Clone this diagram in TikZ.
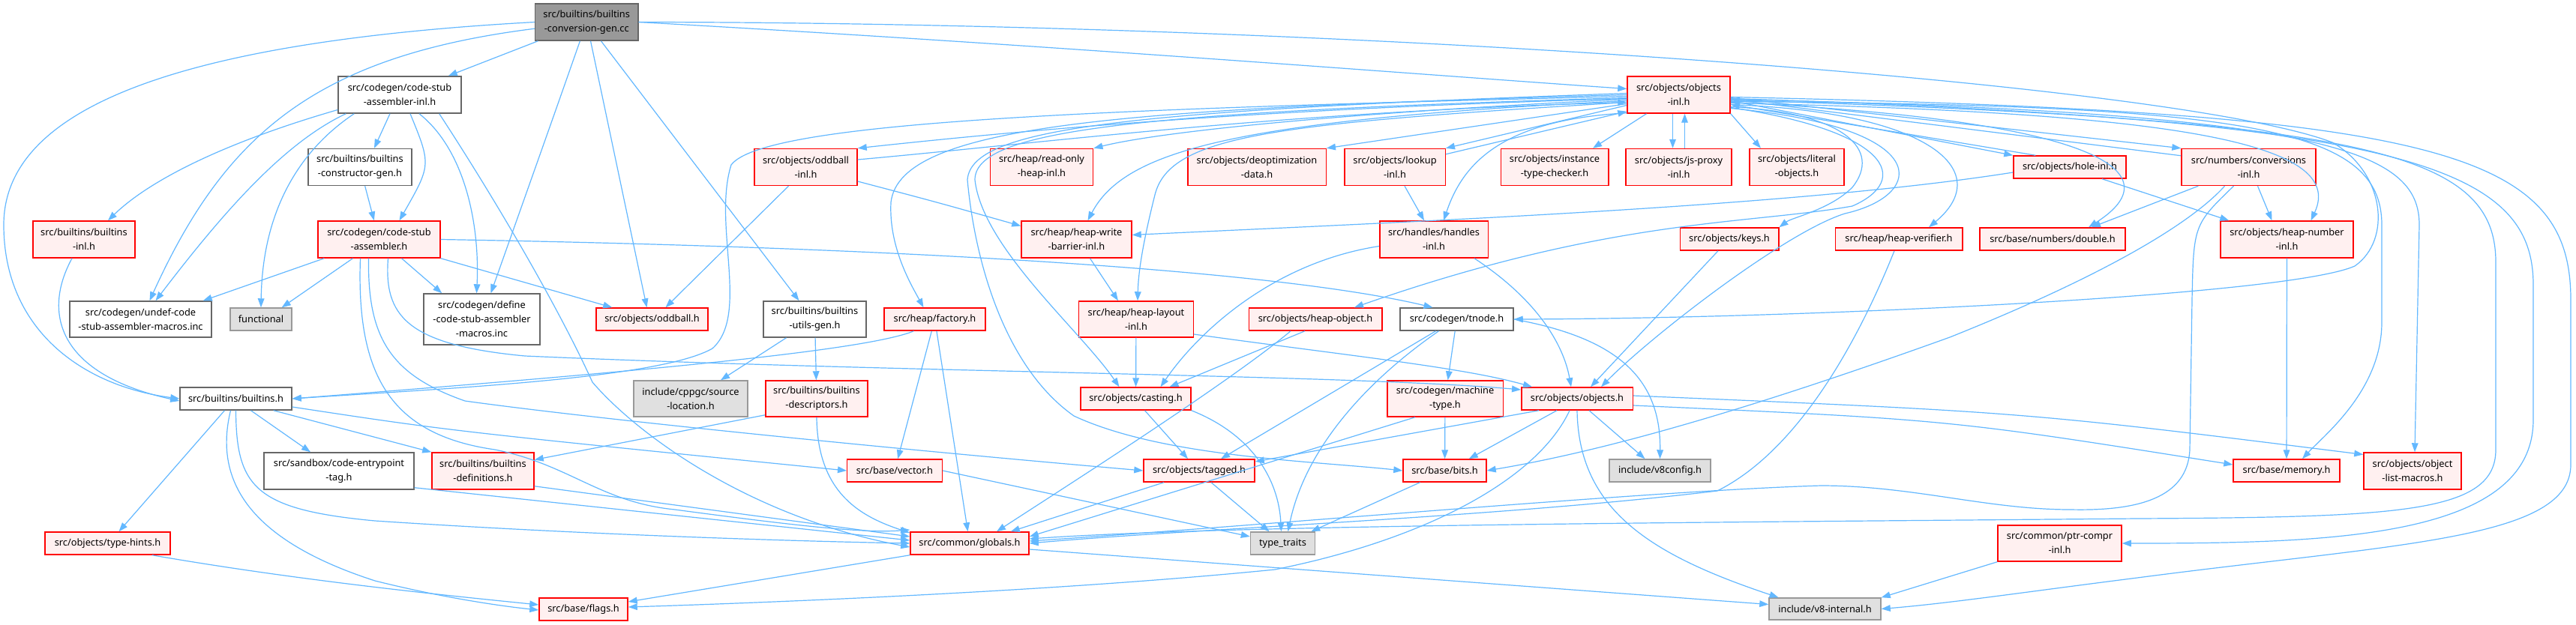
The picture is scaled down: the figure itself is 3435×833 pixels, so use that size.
\documentclass[tikz,border=0pt]{standalone}
\usepackage{fontspec}
\setmainfont{Noto Sans}
\usetikzlibrary{arrows.meta,calc}
\definecolor{eblue}{HTML}{63B8FF}
\definecolor{rfill}{HTML}{FFF0F0}
\definecolor{rdraw}{HTML}{FF0000}
\definecolor{gfill}{HTML}{E0E0E0}
\definecolor{gdraw}{HTML}{999999}
\definecolor{wdraw}{HTML}{666666}
\definecolor{rootfill}{HTML}{999999}
\newcommand\gvfont{\fontsize{9.6}{14.25}\selectfont}
\newcommand\gnode[6]{\node[#1,minimum width={#4*0.75pt},minimum height={#5*0.75pt}] (#2) at (#3) {#6};}
\tikzset{
  base/.style={rectangle, inner sep=0pt, align=center, font=\gvfont, line width=1.1pt},
  rn/.style={base, draw=rdraw, fill=rfill},
  gn/.style={base, draw=gdraw, fill=gfill},
  wn/.style={base, draw=wdraw, fill=white},
  rootn/.style={base, draw=wdraw, fill=rootfill},
  e/.style={draw=eblue, line width=0.9pt, -{Triangle[length=9pt,width=6.5pt]}}
}
\begin{document}
\begin{tikzpicture}[x=0.75pt,y=-0.75pt]
\useasboundingbox[fill=white] (0,0) rectangle (3435,833);
% nodes
\gnode{rootn}{R}{782.25,29.5}{137.5}{49}{src/builtins/builtins\\-conversion-gen.cc}
\gnode{wn}{csaInl}{533,126.5}{164}{49}{src/codegen/code-stub\\-assembler-inl.h}
\gnode{rn}{builtinsInl}{112,319.5}{136}{49}{src/builtins/builtins\\-inl.h}
\gnode{wn}{bcg}{480,223}{138}{49}{src/builtins/builtins\\-constructor-gen.h}
\gnode{rn}{csa}{505.5,319.5}{163}{49}{src/codegen/code-stub\\-assembler.h}
\gnode{wn}{undef}{187.5,426}{189}{48}{src/codegen/undef-code\\-stub-assembler-macros.inc}
\gnode{gn}{functional}{348,426}{82}{30}{functional}
\gnode{wn}{define}{642.5,426}{155}{68}{src/codegen/define\\-code-stub-assembler\\-macros.inc}
\gnode{rn}{oddballH}{869.5,426}{149}{30}{src/objects/oddball.h}
\gnode{wn}{utilsGen}{1086.5,426}{137}{48}{src/builtins/builtins\\-utils-gen.h}
\gnode{rn}{oddballInl}{1074.5,223}{137}{49}{src/objects/oddball\\-inl.h}
\gnode{rn}{OI}{2238.5,126.5}{137}{49}{src/objects/objects\\-inl.h}
\gnode{rn}{readOnly}{1389,223}{137.5}{49}{src/heap/read-only\\-heap-inl.h}
\gnode{rn}{deopt}{1676,223}{184.5}{49}{src/objects/deoptimization\\-data.h}
\gnode{rn}{lookup}{1860,223}{134.5}{49}{src/objects/lookup\\-inl.h}
\gnode{rn}{instance}{2073,223}{143.5}{49}{src/objects/instance\\-type-checker.h}
\gnode{rn}{jsProxy}{2238.5,223}{141}{49}{src/objects/js-proxy\\-inl.h}
\gnode{rn}{literal}{2396,223}{126}{49}{src/objects/literal\\-objects.h}
\gnode{rn}{holeInl}{2760,223}{150}{30}{src/objects/hole-inl.h}
\gnode{rn}{conversions}{2998.5,223}{179}{49}{src/numbers/conversions\\-inl.h}
\gnode{rn}{hwb}{1435.5,319.5}{147}{49}{src/heap/heap-write\\-barrier-inl.h}
\gnode{rn}{handles}{1912,319.5}{144.5}{49}{src/handles/handles\\-inl.h}
\gnode{rn}{keys}{2306,319}{131.5}{30}{src/objects/keys.h}
\gnode{rn}{heapVerifier}{2532,319}{169.5}{30}{src/heap/heap-verifier.h}
\gnode{rn}{double}{2737,319}{194}{30}{src/base/numbers/double.h}
\gnode{rn}{heapNumber}{3049.5,319.5}{177}{49}{src/objects/heap-number\\-inl.h}
\gnode{rn}{factory}{1246.5,426}{135}{30}{src/heap/factory.h}
\gnode{rn}{heapLayout}{1515,426}{152.5}{48}{src/heap/heap-layout\\-inl.h}
\gnode{rn}{heapObject}{1754,426}{177.5}{30}{src/objects/heap-object.h}
\gnode{wn}{tnode}{1942.5,426}{151}{30}{src/codegen/tnode.h}
\gnode{wn}{builtinsH}{314.5,532}{149}{30}{src/builtins/builtins.h}
\gnode{gn}{cppgc}{921,532}{152}{48}{include/cppgc/source\\-location.h}
\gnode{rn}{descriptors}{1089,532}{136}{48}{src/builtins/builtins\\-descriptors.h}
\gnode{rn}{casting}{1514.5,532}{147}{30}{src/objects/casting.h}
\gnode{rn}{machineType}{1927,532}{154.5}{48}{src/codegen/machine\\-type.h}
\gnode{rn}{objectsH}{2103,532}{148.5}{30}{src/objects/objects.h}
\gnode{wn}{codeEntry}{452,628.5}{200}{49}{src/sandbox/code-entrypoint\\-tag.h}
\gnode{rn}{definitions}{644,628.5}{136}{49}{src/builtins/builtins\\-definitions.h}
\gnode{rn}{vector}{1193,628}{126.5}{30}{src/base/vector.h}
\gnode{rn}{tagged}{1599,628}{148}{30}{src/objects/tagged.h}
\gnode{rn}{globals}{1293,725}{158}{30}{src/common/globals.h}
\gnode{gn}{typeTraits}{1710.5,725}{86}{30}{type\_traits}
\gnode{rn}{bits}{1926.5,628}{111}{30}{src/base/bits.h}
\gnode{gn}{v8config}{2213.5,628}{135}{30}{include/v8config.h}
\gnode{rn}{memory}{3049,628}{142}{30}{src/base/memory.h}
\gnode{rn}{objectList}{3217,628.5}{130}{49}{src/objects/object\\-list-macros.h}
\gnode{rn}{ptrCompr}{2746.5,725}{165}{48}{src/common/ptr-compr\\-inl.h}
\gnode{gn}{v8internal}{2433.5,812.5}{149}{29}{include/v8-internal.h}
\gnode{rn}{flags}{778,813}{118}{30}{src/base/flags.h}
\gnode{rn}{typeHints}{143.5,725}{167}{30}{src/objects/type-hints.h}
% root edges
\draw[e] (R) -- (csaInl);
\draw[e] (R.west) .. controls (250,55) and (5,140) .. (5,300) .. controls (5,440) and (110,515) .. (builtinsH.west);
\draw[e] (R) .. controls (420,75) and (300,180) .. ($(undef.north)+(12,0)$);
\draw[e] (R) .. controls (740,150) .. ($(define.north)+(12,0)$);
\draw[e] (R) -- ($(oddballH.north)+(-7,0)$);
\draw[e] (R) -- ($(utilsGen.north)+(-21,0)$);
\draw[e] (R.east) .. controls (1400,60) and (1900,100) .. ($(OI.west)+(0,-8)$);
\draw[e] (R.east) .. controls (1800,30) and (2900,110) .. (3110,190) .. controls (3180,230) and (3190,320) .. (3140,355) .. controls (3050,395) and (2400,425) .. (tnode.east);
% objects-inl left side
\draw[e] ($(OI.west)+(0,5)$) .. controls (1700,145) and (1400,170) .. (oddballInl.north east);
\draw[e] ($(oddballInl.east)+(0,-10)$) .. controls (1400,190) and (1700,150) .. ($(OI.west)+(0,10)$);
\draw[e] ($(OI.west)+(0,2)$) .. controls (1500,145) and (1020,160) .. (975,220) .. controls (950,300) and (1000,420) .. (950,465) .. controls (880,505) and (600,518) .. (builtinsH.east);
\draw[e] ($(OI.west)+(0,6)$) .. controls (1800,150) and (1550,175) .. (readOnly.north east);
\draw[e] ($(OI.west)+(0,8)$) .. controls (1650,160) and (1500,200) .. ($(hwb.north)+(15,0)$);
\draw[e] ($(OI.west)+(0,10)$) .. controls (1700,165) and (1560,180) .. (1540,260) .. controls (1525,320) and (1518,360) .. ($(heapLayout.north)+(2,0)$);
\draw[e] (OI.west) .. controls (1500,145) and (1200,165) .. (1188,270) .. controls (1185,330) and (1215,380) .. ($(factory.north)+(-15,0)$);
\draw[e] ($(OI.west)+(0,-2)$) .. controls (1500,148) and (1295,170) .. (1290,240) .. controls (1300,350) and (1340,490) .. (1432,555) .. controls (1550,610) and (1750,615) .. (bits.west);
\draw[e] ($(OI.west)+(0,4)$) .. controls (1500,150) and (1300,175) .. (1300,240) .. controls (1310,330) and (1440,440) .. ($(casting.north)+(-22,0)$);
\draw[e] ($(OI.west)+(0,12)$) -- (deopt.north east);
\draw[e] ($(OI.west)+(0,14)$) -- (lookup.north east);
\draw[e] ($(lookup.north east)+(0,8)$) -- ($(OI.south west)+(0,-3)$);
\draw[e] ($(OI.south west)+(0,-1)$) .. controls (2000,160) and (1950,220) .. ($(handles.north)+(13,0)$);
\draw[e] ($(OI.south)+(-43,0)$) -- ($(instance.north)+(51,0)$);
\draw[e] ($(OI.south)+(-8,0)$) -- ($(jsProxy.north)+(-8,0)$);
\draw[e] ($(jsProxy.north)+(8,0)$) -- ($(OI.south)+(8,0)$);
\draw[e] (OI.south east) -- ($(literal.north)+(-48,0)$);
% objects-inl right side
\draw[e] ($(OI.east)+(0,8)$) -- (holeInl.north west);
\draw[e] ($(holeInl.north west)+(30,0)$) -- ($(OI.east)+(0,13)$);
\draw[e] ($(OI.east)+(0,16)$) .. controls (2460,150) and (2510,200) .. (2470,250) .. controls (2440,280) and (2390,290) .. (keys.north east);
\draw[e] ($(OI.east)+(0,17)$) .. controls (2520,175) and (2550,240) .. (2470,275) .. controls (2330,300) and (2150,290) .. ($(heapObject.north)+(52,0)$);
\draw[e] ($(OI.east)+(0,18)$) .. controls (2580,170) and (2570,260) .. (2460,285) .. controls (2380,310) and (2200,450) .. ($(objectsH.north)+(32,0)$);
\draw[e] ($(OI.east)+(0,13)$) .. controls (2580,150) and (2660,230) .. ($(heapVerifier.north)+(40,0)$);
\draw[e] ($(OI.east)+(0,10)$) .. controls (2800,160) and (2900,230) .. ($(double.north)+(48,0)$);
\draw[e] ($(OI.east)+(0,4)$) -- (conversions.north west);
\draw[e] ($(conversions.north west)+(0,10)$) -- ($(OI.east)+(0,6)$);
\draw[e] ($(OI.east)+(0,11)$) .. controls (2900,150) and (3130,190) .. ($(heapNumber.north)+(32,0)$);
\draw[e] ($(OI.east)+(0,9)$) .. controls (3000,140) and (3176,170) .. (3176,300) -- (3176,430) .. controls (3176,520) and (3100,580) .. ($(memory.north)+(21,0)$);
\draw[e] ($(OI.east)+(0,6)$) .. controls (3100,150) and (3226,200) .. (3226,300) -- ($(objectList.north)+(3,0)$);
\draw[e] ($(OI.east)+(0,7)$) .. controls (3150,160) and (3328,200) .. (3328,350) -- (3328,600) .. controls (3328,685) and (3200,690) .. (2850,692) .. controls (2300,697) and (1650,700) .. ($(globals.east)+(0,-6)$);
\draw[e] ($(OI.east)+(0,5)$) .. controls (3200,160) and (3378,220) .. (3378,380) -- (3378,560) .. controls (3378,720) and (3100,725) .. (ptrCompr.east);
\draw[e] ($(OI.east)+(0,3)$) .. controls (3250,150) and (3428,200) .. (3428,400) -- (3428,620) .. controls (3428,720) and (3200,725) .. (2850,771) .. controls (2700,790) and (2600,805) .. (v8internal.east);
% oddball-inl
\draw[e] ($(oddballInl.east)+(0,19)$) .. controls (1250,270) .. ($(hwb.west)+(0,-18)$);
\draw[e] ($(oddballInl.south)+(-23,0)$) -- ($(oddballH.north)+(18,0)$);
% lookup, hole
\draw[e] ($(lookup.south)+(13,0)$) -- ($(handles.north)+(-13,0)$);
\draw[e] ($(holeInl.west)+(0,7)$) .. controls (2400,275) and (1900,295) .. ($(hwb.east)+(0,-6)$);
\draw[e] ($(holeInl.south)+(43,0)$) -- ($(heapNumber.north west)+(12,0)$);
% conversions
\draw[e] ($(conversions.south)+(12,0)$) -- ($(heapNumber.north)+(-20,0)$);
\draw[e] ($(conversions.south west)+(23,0)$) -- ($(double.north)+(52,0)$);
\draw[e] ($(conversions.south)+(-32,0)$) .. controls (2920,300) and (2800,370) .. (2600,450) .. controls (2350,540) and (2150,600) .. (bits.east);
\draw[e] ($(conversions.south)+(-20,0)$) .. controls (2925,300) .. (2923,400) -- (2920,600) .. controls (2917,665) and (2850,682) .. (2761,680) .. controls (2650,680) and (2550,648) .. (2428,648) .. controls (2200,655) and (1700,700) .. ($(globals.east)+(0,-3)$);
% heap verifier, heap number
\draw[e] ($(heapVerifier.south)+(-6,0)$) .. controls (2480,450) and (2400,600) .. (2290,655) .. controls (2000,690) and (1600,705) .. (globals.east);
\draw[e] (heapNumber) -- (memory);
% machine type, tnode
\draw[e] (machineType) -- (bits);
\draw[e] ($(machineType.south)+(-40,0)$) -- ($(globals.east)+(0,-9)$);
\draw[e] (tnode) -- (machineType);
\draw[e] ($(tnode.south)+(-28,0)$) -- ($(tagged.north)+(29,0)$);
\draw[e] ($(tnode.south)+(-24,0)$) .. controls (1820,510) and (1740,600) .. ($(typeTraits.north)+(7,0)$);
\draw[e] (tnode.east) .. controls (2150,450) and (2215,500) .. (v8config.north);
% heap object, layout, write barrier
\draw[e] ($(heapObject.south)+(-14,0)$) -- ($(casting.north)+(45,0)$);
\draw[e] ($(heapObject.south)+(-33,0)$) .. controls (1640,510) and (1420,650) .. ($(globals.north)+(36,0)$);
\draw[e] (heapLayout) -- (casting);
\draw[e] ($(heapLayout.east)+(0,20)$) .. controls (1800,475) and (1950,490) .. ($(objectsH.north west)+(15,0)$);
\draw[e] ($(hwb.south)+(18,0)$) -- ($(heapLayout.north)+(-24,0)$);
% handles, keys
\draw[e] ($(handles.west)+(0,9)$) .. controls (1700,350) and (1600,440) .. ($(casting.north)+(33,0)$);
\draw[e] ($(handles.south east)+(-19,0)$) .. controls (2050,400) and (2085,460) .. ($(objectsH.north)+(-8,0)$);
\draw[e] ($(keys.south)+(-15,0)$) -- ($(objectsH.north)+(18,0)$);
% factory
\draw[e] ($(factory.south)+(-28,0)$) .. controls (1150,470) and (800,500) .. (builtinsH.east);
\draw[e] (factory) -- (vector);
\draw[e] (factory) -- (globals);
% casting, tagged, vector, bits
\draw[e] ($(casting.south)+(12,0)$) -- ($(tagged.north)+(-15,0)$);
\draw[e] (casting.south east) .. controls (1670,580) and (1705,640) .. ($(typeTraits.north)+(-2,0)$);
\draw[e] ($(tagged.south)+(-47,0)$) -- ($(globals.north east)+(-25,0)$);
\draw[e] ($(tagged.south)+(16,0)$) -- ($(typeTraits.north)+(-18,0)$);
\draw[e] (vector.east) -- ($(typeTraits.west)+(0,-9)$);
\draw[e] ($(bits.south)+(-33,0)$) -- ($(typeTraits.north east)+(-6,0)$);
% objects.h
\draw[e] ($(objectsH.south)+(-27,0)$) -- ($(bits.north east)+(-24,0)$);
\draw[e] ($(objectsH.south)+(16,0)$) -- ($(v8config.north)+(-20,0)$);
\draw[e] ($(objectsH.south west)+(24,0)$) -- ($(tagged.east)+(0,-12)$);
\draw[e] ($(objectsH.south)+(-10,0)$) .. controls (2050,640) and (1900,720) .. (1700,760) .. controls (1400,790) and (1000,805) .. ($(flags.east)+(0,-3)$);
\draw[e] (objectsH.south) .. controls (2105,680) and (2200,740) .. ($(v8internal.north)+(-62,0)$);
\draw[e] ($(objectsH.east)+(0,-4)$) .. controls (2700,550) .. ($(objectList.west)+(0,-22)$);
\draw[e] ($(objectsH.east)+(0,9)$) .. controls (2600,560) .. ($(memory.west)+(0,-8)$);
% ptr-compr, globals
\draw[e] (ptrCompr.south west) -- (v8internal.north east);
\draw[e] ($(globals.east)+(0,8)$) -- ($(v8internal.west)+(0,-6)$);
\draw[e] (globals.south west) -- ($(flags.east)+(0,-10)$);
% type hints, builtins.h
\draw[e] ($(typeHints.south east)+(-25,0)$) .. controls (400,775) and (600,795) .. ($(flags.west)+(0,-6)$);
\draw[e] ($(builtinsH.south)+(-15,0)$) -- ($(typeHints.north)+(15,0)$);
\draw[e] ($(builtinsH.south)+(-7,0)$) .. controls (285,640) and (330,720) .. (500,775) .. controls (600,800) and (680,810) .. ($(flags.west)+(0,1)$);
\draw[e] (builtinsH.south) .. controls (315,650) and (340,680) .. (500,695) .. controls (800,715) and (1100,723) .. (globals.west);
\draw[e] ($(builtinsH.south)+(20,0)$) -- ($(codeEntry.north)+(-38,0)$);
\draw[e] ($(builtinsH.south east)+(-25,0)$) -- (definitions.north west);
\draw[e] ($(builtinsH.east)+(0,11)$) .. controls (600,575) .. (vector.west);
% code entry, definitions, descriptors, utils
\draw[e] ($(codeEntry.south east)+(0,-3)$) -- ($(globals.west)+(0,-4)$);
\draw[e] ($(definitions.south east)+(0,-5)$) -- ($(globals.west)+(0,-9)$);
\draw[e] ($(descriptors.south west)+(0,-3)$) -- ($(definitions.east)+(0,-15)$);
\draw[e] (descriptors.south) .. controls (1090,660) and (1150,690) .. ($(globals.west)+(0,-14)$);
\draw[e] ($(utilsGen.south)+(-38,0)$) -- ($(cppgc.north)+(40,0)$);
\draw[e] (utilsGen) -- (descriptors);
% constructor gen, builtins-inl
\draw[e] (bcg) -- (csa);
\draw[e] ($(builtinsInl.south)+(-16,0)$) .. controls (55,420) and (80,500) .. ($(builtinsH.west)+(0,3)$);
% code-stub-assembler-inl
\draw[e] ($(csaInl.west)+(0,20)$) .. controls (300,190) and (200,240) .. ($(builtinsInl.north)+(32,0)$);
\draw[e] ($(csaInl.south west)+(11,0)$) .. controls (380,190) and (300,280) .. ($(undef.north)+(20,0)$);
\draw[e] ($(csaInl.south west)+(22,0)$) .. controls (400,200) and (350,280) .. (functional.north);
\draw[e] ($(csaInl.south)+(-13,0)$) -- ($(bcg.north)+(19,0)$);
\draw[e] ($(csaInl.south)+(14,0)$) .. controls (575,220) .. ($(csa.north)+(27,0)$);
\draw[e] ($(csaInl.south)+(26,0)$) .. controls (620,200) and (640,300) .. ($(define.north)+(-7,0)$);
\draw[e] ($(csaInl.south east)+(-30,0)$) .. controls (650,250) and (740,400) .. (790,510) .. controls (850,580) and (1000,690) .. ($(globals.west)+(0,5)$);
% code-stub-assembler
\draw[e] ($(csa.south west)+(9,0)$) -- ($(undef.north east)+(-12,0)$);
\draw[e] ($(csa.south)+(-35,0)$) -- ($(functional.north east)+(-14,0)$);
\draw[e] ($(csa.south)+(30,0)$) -- ($(define.north west)+(25,0)$);
\draw[e] (csa.south east) -- ($(oddballH.north west)+(22,0)$);
\draw[e] (csa.east) .. controls (1200,330) and (1700,360) .. ($(tnode.north)+(-32,0)$);
\draw[e] ($(csa.south)+(12,0)$) .. controls (512,420) and (540,460) .. (700,475) .. controls (1200,497) and (1800,500) .. ($(objectsH.west)+(0,-12)$);
\draw[e] ($(csa.south)+(-14,0)$) .. controls (490,450) and (520,500) .. (620,535) .. controls (800,560) and (1200,600) .. (tagged.west);
\draw[e] ($(csa.south)+(-25,0)$) .. controls (475,500) and (520,580) .. (660,600) .. controls (760,620) and (800,670) .. (900,680) .. controls (1050,700) and (1150,712) .. ($(globals.west)+(0,-18)$);
\end{tikzpicture}
\end{document}
